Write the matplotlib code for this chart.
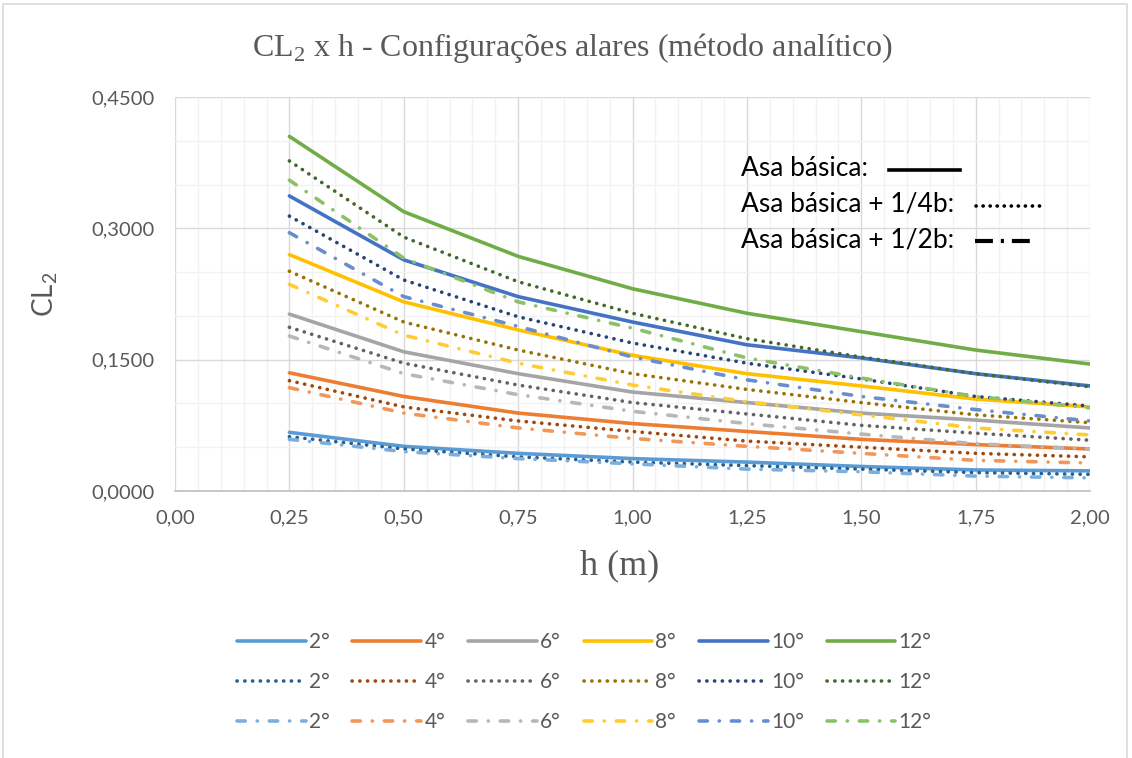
import matplotlib
matplotlib.use("Agg")
import matplotlib.pyplot as plt
import matplotlib.ticker as ticker
from matplotlib.lines import Line2D
from matplotlib.patches import Rectangle

# Data
h = [0.25, 0.50, 0.75, 1.00, 1.25, 1.50, 1.75, 2.00]
angles = ["2°", "4°", "6°", "8°", "10°", "12°"]

# Asa básica (solid)
basic_2 = [0.067, 0.051, 0.043, 0.037, 0.033, 0.028, 0.024, 0.023]
basic_4 = [0.135, 0.108, 0.089, 0.077, 0.068, 0.059, 0.053, 0.048]
basic_6 = [0.202, 0.159, 0.134, 0.113, 0.101, 0.089, 0.081, 0.072]
basic_8 = [0.270, 0.216, 0.184, 0.155, 0.134, 0.120, 0.105, 0.096]
basic_10 = [0.337, 0.264, 0.222, 0.193, 0.167, 0.152, 0.134, 0.120]
basic_12 = [0.405, 0.319, 0.268, 0.231, 0.203, 0.182, 0.161, 0.145]

# Asa básica + 1/4b (dotted)
quarter_2 = [0.062, 0.048, 0.039, 0.033, 0.029, 0.025, 0.021, 0.019]
quarter_4 = [0.126, 0.096, 0.080, 0.068, 0.057, 0.050, 0.043, 0.039]
quarter_6 = [0.187, 0.146, 0.121, 0.101, 0.088, 0.075, 0.066, 0.058]
quarter_8 = [0.251, 0.193, 0.161, 0.134, 0.116, 0.101, 0.087, 0.078]
quarter_10 = [0.314, 0.241, 0.199, 0.169, 0.146, 0.128, 0.108, 0.097]
quarter_12 = [0.377, 0.290, 0.239, 0.203, 0.174, 0.153, 0.134, 0.119]

# Asa básica + 1/2b (dash-dot)
half_2 = [0.059, 0.045, 0.037, 0.031, 0.025, 0.022, 0.017, 0.015]
half_4 = [0.118, 0.089, 0.072, 0.060, 0.051, 0.043, 0.035, 0.032]
half_6 = [0.177, 0.134, 0.110, 0.091, 0.077, 0.065, 0.054, 0.048]
half_8 = [0.236, 0.178, 0.146, 0.121, 0.102, 0.087, 0.072, 0.064]
half_10 = [0.295, 0.222, 0.188, 0.153, 0.127, 0.108, 0.093, 0.080]
half_12 = [0.355, 0.266, 0.216, 0.186, 0.152, 0.129, 0.108, 0.095]

basic = [basic_2, basic_4, basic_6, basic_8, basic_10, basic_12]
quarter = [quarter_2, quarter_4, quarter_6, quarter_8, quarter_10, quarter_12]
half = [half_2, half_4, half_6, half_8, half_10, half_12]

# Excel-like colours
SOLID_COLORS = ["#5B9BD5", "#ED7D31", "#A5A5A5", "#FFC000", "#4472C4", "#70AD47"]
DOT_COLORS = ["#255E91", "#9E480E", "#636363", "#997300", "#264478", "#43682B"]
DASHDOT_COLORS = ["#7CAFDD", "#F1975A", "#B7B7B7", "#FFCD33", "#698ED0", "#8CC168"]
TEXT_GRAY = "#595959"

SANS = "Lato"
SERIF = "Liberation Serif"
LW = 2.6
DOTTED = (0, (0.05, 2.1))
DASHDOT = (0, (2.3, 3.3, 0.05, 3.3))

fig = plt.figure(figsize=(11.32, 7.58), dpi=100)
ax = fig.add_axes([175 / 1132, 1 - 491 / 758, (1090 - 175) / 1132, (491 - 97) / 758])

handles = {}
for i, ang in enumerate(angles):
    (l1,) = ax.plot(h, basic[i], color=SOLID_COLORS[i], lw=LW, solid_capstyle="round", label=ang)
    (l2,) = ax.plot(h, quarter[i], color=DOT_COLORS[i], lw=LW, ls=DOTTED, dash_capstyle="round", label=ang)
    (l3,) = ax.plot(h, half[i], color=DASHDOT_COLORS[i], lw=LW, ls=DASHDOT, dash_capstyle="round", label=ang)
    handles[i] = (l1, l2, l3)

# Axes limits, ticks and grid
ax.set_xlim(0, 2.0)
ax.set_ylim(0, 0.45)
ax.xaxis.set_major_locator(ticker.MultipleLocator(0.25))
ax.xaxis.set_minor_locator(ticker.MultipleLocator(0.05))
ax.yaxis.set_major_locator(ticker.MultipleLocator(0.15))
ax.yaxis.set_minor_locator(ticker.MultipleLocator(0.05))
ax.xaxis.set_major_formatter(ticker.FuncFormatter(lambda x, p: f"{x:.2f}".replace(".", ",")))
ax.yaxis.set_major_formatter(ticker.FuncFormatter(lambda y, p: f"{y:.4f}".replace(".", ",")))
ax.grid(True, which="major", color="#D9D9D9", lw=1.0)
ax.grid(True, which="minor", color="#F2F2F2", lw=1.0)
ax.set_axisbelow(True)
ax.tick_params(which="both", length=0, labelsize=14.5, labelcolor=TEXT_GRAY)
ax.tick_params(axis="y", pad=15)
ax.tick_params(axis="x", pad=13)
for lab in ax.get_xticklabels() + ax.get_yticklabels():
    lab.set_fontfamily(SANS)
for s in ["top", "right", "left"]:
    ax.spines[s].set_visible(False)
ax.spines["bottom"].set_color("#BFBFBF")
ax.spines["bottom"].set_linewidth(1.2)

ax.set_xlabel("h (m)", fontsize=26, family=SERIF, color=TEXT_GRAY)
ax.xaxis.set_label_coords((620 - 175) / 915, -(566 - 491) / 394)
ax.set_ylabel("CL$_\\mathregular{2}$", fontsize=20, family=SANS, color=TEXT_GRAY)
ax.yaxis.set_label_coords(-(175 - 45) / 915, 0.5)
ax.yaxis.label.set_va("center")
ax.xaxis.label.set_va("center")

fig.text(0.506, 1 - 48 / 758, "CL$_\\mathregular{2}$ x h - Configurações alares (método analítico)",
         ha="center", va="center", fontsize=23, family=SERIF, color=TEXT_GRAY)

# Style key inside the plot
key_texts = ["Asa básica:", "Asa básica + 1/4b:", "Asa básica + 1/2b:"]
key_y = [168, 204, 240]
for txt, yy in zip(key_texts, key_y):
    fig.text(741 / 1132, 1 - yy / 758, txt, ha="left", va="center", fontsize=19, family=SANS, color="black")
fig.add_artist(Line2D([889 / 1132, 960 / 1132], [1 - 170 / 758] * 2, color="black", lw=2.6,
                      transform=fig.transFigure))
fig.add_artist(Line2D([976 / 1132, 1042 / 1132], [1 - 206 / 758] * 2, color="black", lw=2.6,
                      ls=(0, (0.05, 1.9)), dash_capstyle="round", transform=fig.transFigure))
fig.add_artist(Line2D([975 / 1132, 1035 / 1132], [1 - 241 / 758] * 2, color="black", lw=3.0,
                      ls=(0, (4.3, 1.9, 0.75, 1.9)), dash_capstyle="butt", transform=fig.transFigure))

# Bottom legend: rows = style, columns = angle
ordered = []
labels = []
for i, ang in enumerate(angles):
    for line in handles[i]:
        ordered.append(line)
        labels.append(ang)
leg = fig.legend(ordered, labels, loc="center", bbox_to_anchor=(0.516, 1 - 682 / 758), ncol=6,
                 frameon=False, handlelength=3.3, handletextpad=0.15,
                 columnspacing=1.1, labelspacing=0.95,
                 prop={"family": SANS, "size": 15})
for t in leg.get_texts():
    t.set_color(TEXT_GRAY)

# Chart outer border
fig.add_artist(Rectangle((3 / 1132, -0.01), 1124 / 1132, 1 - 4 / 758 + 0.01, fill=False,
                         edgecolor="#D9D9D9", lw=1.2, transform=fig.transFigure))

fig.savefig("out.png", dpi=100)
